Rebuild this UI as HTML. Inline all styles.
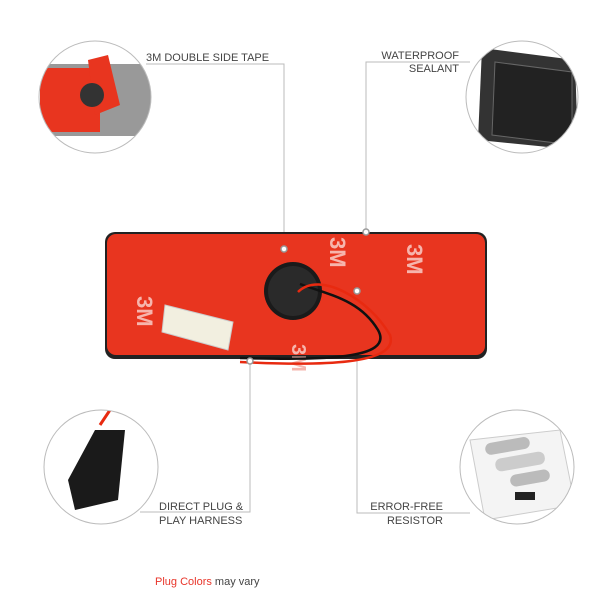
<!DOCTYPE html>
<html><head><style>
body{margin:0;background:#fff}
svg text{font-family:"Liberation Sans",sans-serif;fill:#444;font-size:11px}
</style></head><body>
<svg width="600" height="600" viewBox="0 0 600 600" xmlns="http://www.w3.org/2000/svg">
<defs>
<clipPath id="c1"><circle cx="95" cy="97" r="56"/></clipPath>
<clipPath id="c2"><circle cx="522" cy="97" r="56"/></clipPath>
<clipPath id="c3"><circle cx="101" cy="467" r="57"/></clipPath>
<clipPath id="c4"><circle cx="517" cy="467" r="57"/></clipPath>
</defs>
<!-- connector lines -->
<g stroke="#bbb" stroke-width="1" fill="none">
<polyline points="146,64 284,64 284,249"/>
<polyline points="470,62 366,62 366,232"/>
<polyline points="250,361 250,512 140,512"/>
<polyline points="357,291 357,513 470,513"/>
</g>
<!-- main pad -->
<rect x="105" y="232" width="382" height="127" rx="10" fill="#222"/>
<rect x="107" y="234" width="378" height="121" rx="9" fill="#e8351f"/>
<g fill="#f6b5ad" font-family="Liberation Sans" font-weight="bold" font-size="22">
<text x="0" y="0" transform="translate(330,237) rotate(90)" style="fill:#f6b5ad;font-size:22px;font-weight:bold">3M</text>
<text x="0" y="0" transform="translate(407,244) rotate(90)" style="fill:#f6b5ad;font-size:22px;font-weight:bold">3M</text>
<text x="0" y="0" transform="translate(137,296) rotate(90)" style="fill:#f6b5ad;font-size:22px;font-weight:bold">3M</text>
<text x="0" y="0" transform="translate(292,344) rotate(90)" style="fill:#f6b5ad;font-size:20px;font-weight:bold">3M</text>
</g>
<circle cx="293" cy="291" r="29" fill="#1a1a1a"/>
<circle cx="293" cy="291" r="25" fill="#2a2a2a"/>
<path d="M300 284 C330 295,360 300,378 330 C395 360,320 360,240 358" stroke="#111" stroke-width="2.5" fill="none"/>
<path d="M298 292 C320 270,370 300,390 335 C400 365,320 366,240 362" stroke="#e82a10" stroke-width="2.5" fill="none"/>
<path d="M165 305 L233 322 L228 350 L162 332 Z" fill="#f2efe0" stroke="#ccc"/>
<!-- dots -->
<g fill="#fff" stroke="#999" stroke-width="1.5">
<circle cx="284" cy="249" r="3"/><circle cx="366" cy="232" r="3"/>
<circle cx="357" cy="291" r="3"/><circle cx="250" cy="361" r="3"/>
</g>
<!-- circle 1 -->
<g clip-path="url(#c1)">
<rect x="30" y="30" width="130" height="140" fill="#fff"/>
<rect x="40" y="64" width="115" height="72" fill="#999"/>
<rect x="40" y="68" width="60" height="64" fill="#e8351f"/>
<path d="M88 60 L108 55 L120 105 L95 115 Z" fill="#e8351f"/>
<circle cx="92" cy="95" r="12" fill="#333"/>
</g>
<circle cx="95" cy="97" r="56" fill="none" stroke="#bbb"/>
<!-- circle 2 -->
<g clip-path="url(#c2)">
<rect x="460" y="35" width="130" height="130" fill="#fff"/>
<path d="M482 48 L575 60 L578 150 L478 140 Z" fill="#333"/>
<path d="M495 62 L572 72 L572 145 L492 135 Z" fill="#222" stroke="#666"/>
</g>
<circle cx="522" cy="97" r="56" fill="none" stroke="#bbb"/>
<!-- circle 3 -->
<g clip-path="url(#c3)">
<rect x="40" y="405" width="125" height="125" fill="#fff"/>
<path d="M95 430 L125 430 L118 500 L75 510 L68 480 Z" fill="#1a1a1a"/>
<path d="M100 425 L110 410" stroke="#e82a10" stroke-width="3"/>
</g>
<circle cx="101" cy="467" r="57" fill="none" stroke="#bbb"/>
<!-- circle 4 -->
<g clip-path="url(#c4)">
<rect x="455" y="405" width="125" height="125" fill="#fff"/>
<path d="M470 440 L560 430 L575 505 L485 520 Z" fill="#f4f4f4" stroke="#ccc"/>
<rect x="485" y="440" width="45" height="12" rx="6" fill="#bbb" transform="rotate(-10 507 446)"/>
<rect x="495" y="455" width="50" height="13" rx="6" fill="#ccc" transform="rotate(-10 520 461)"/>
<rect x="510" y="472" width="40" height="12" rx="6" fill="#bbb" transform="rotate(-10 530 478)"/>
<rect x="515" y="492" width="20" height="8" fill="#222"/>
</g>
<circle cx="517" cy="467" r="57" fill="none" stroke="#bbb"/>
<!-- labels -->
<text x="146" y="61">3M DOUBLE SIDE TAPE</text>
<text x="459" y="59" text-anchor="end">WATERPROOF</text>
<text x="459" y="72" text-anchor="end">SEALANT</text>
<text x="159" y="510">DIRECT PLUG &amp;</text>
<text x="159" y="524">PLAY HARNESS</text>
<text x="443" y="510" text-anchor="end">ERROR-FREE</text>
<text x="443" y="524" text-anchor="end">RESISTOR</text>
<text x="155" y="585"><tspan style="fill:#e8352a">Plug Colors</tspan> may vary</text>
</svg>
</body></html>
